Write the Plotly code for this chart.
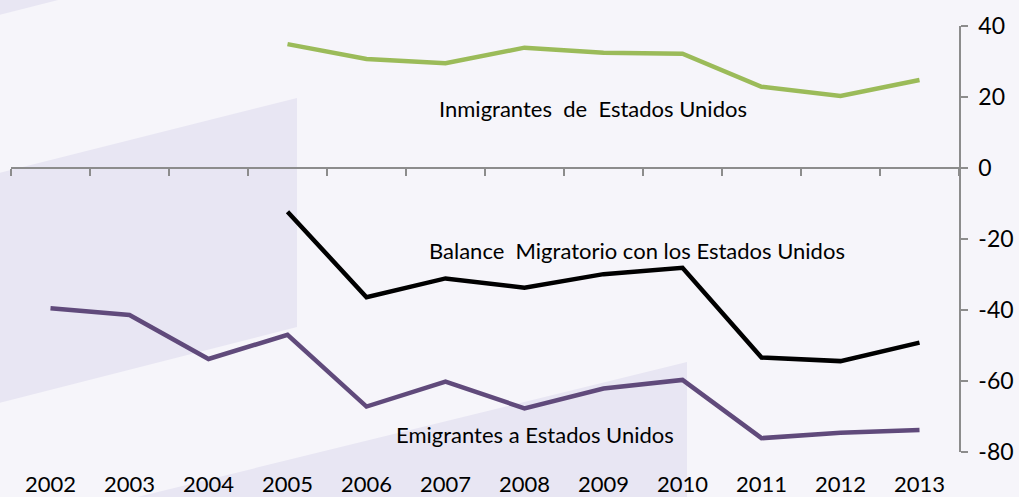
import plotly.graph_objects as go

years = ["2002", "2003", "2004", "2005", "2006", "2007", "2008",
         "2009", "2010", "2011", "2012", "2013"]
inmigrantes_years = years[3:]
inmigrantes = [34.9, 30.7, 29.5, 33.9, 32.5, 32.2, 22.9, 20.3, 24.8]
balance_years = years[3:]
balance = [-12.3, -36.4, -31.1, -33.7, -29.9, -28.1, -53.4, -54.4, -49.2]
emigrantes = [-39.5, -41.4, -53.8, -47.0, -67.2, -60.2, -67.7, -62.1,
              -59.7, -76.1, -74.6, -73.8]
y_ticks = [40, 20, 0, -20, -40, -60, -80]
y_ticktext = ["40", "20", "0", "-20", "-40", "-60", "-80"]

W, H = 1019, 497
ML, MR, MT, MB = 11, 60, 26, 45
PW, PH = W - ML - MR, H - MT - MB
YMIN, YMAX = -80, 40

def px(x):
    return (x - ML) / PW

def py(y):
    return (H - MB - y) / PH

def poly(pts):
    return "M " + " L ".join(f"{px(a):.5f},{py(b):.5f}" for a, b in pts) + " Z"

BG = "#F6F5FA"
BAND = "#E8E6F3"
AXC = "#8C8C8C"
FONT = "Lato"

fig = go.Figure()
fig.add_trace(go.Scatter(x=inmigrantes_years, y=inmigrantes, mode="lines",
                         line=dict(color="#9BBB59", width=4.5),
                         xaxis="x2", yaxis="y", showlegend=False))
fig.add_trace(go.Scatter(x=balance_years, y=balance, mode="lines",
                         line=dict(color="#000000", width=4.5),
                         showlegend=False))
fig.add_trace(go.Scatter(x=years, y=emigrantes, mode="lines",
                         line=dict(color="#604A7B", width=4.5),
                         showlegend=False))

shapes = [
    dict(type="path", xref="paper", yref="paper", layer="below",
         path=poly([(-5, 16), (70, -3), (-5, -3)]),
         fillcolor=BAND, line=dict(width=0)),
    dict(type="path", xref="paper", yref="paper", layer="below",
         path=poly([(-5, 174), (297, 98), (297, 327), (-5, 404)]),
         fillcolor=BAND, line=dict(width=0)),
    dict(type="path", xref="paper", yref="paper", layer="below",
         path=poly([(-5, 532), (687, 362), (687, 520), (-5, 520)]),
         fillcolor=BAND, line=dict(width=0)),
]

annotations = [
    dict(text="Inmigrantes\u00a0\u00a0de\u00a0\u00a0Estados Unidos",
         x=px(593), y=py(108), xref="paper", yref="paper",
         showarrow=False, xanchor="center", yanchor="middle",
         font=dict(family=FONT, size=22, color="#000000")),
    dict(text="Balance\u00a0\u00a0Migratorio con los Estados Unidos",
         x=px(637), y=py(250), xref="paper", yref="paper",
         showarrow=False, xanchor="center", yanchor="middle",
         font=dict(family=FONT, size=22, color="#000000")),
    dict(text="Emigrantes a Estados Unidos",
         x=px(535), y=py(434), xref="paper", yref="paper",
         showarrow=False, xanchor="center", yanchor="middle",
         font=dict(family=FONT, size=22, color="#000000")),
]

fig.update_layout(
    width=W, height=H,
    margin=dict(l=ML, r=MR, t=MT, b=MB, pad=0, autoexpand=False),
    paper_bgcolor=BG, plot_bgcolor="rgba(0,0,0,0)",
    shapes=shapes, annotations=annotations,
    font=dict(family=FONT, size=22, color="#000000"),
    xaxis=dict(type="category", categoryorder="array", categoryarray=years,
               range=[-0.5, len(years) - 0.5], showline=False, showgrid=False,
               zeroline=False, ticks="", ticklabelstandoff=17,
               automargin=False,
               tickfont=dict(family=FONT, size=22, color="#000000")),
    xaxis2=dict(type="category", categoryorder="array", categoryarray=years,
                matches="x", overlaying="x", anchor="free",
                position=(0 - YMIN) / (YMAX - YMIN), side="bottom",
                showline=True, linecolor=AXC, linewidth=1.5,
                ticks="outside", tickson="boundaries", ticklen=7,
                tickcolor=AXC, tickwidth=1.5, showticklabels=False,
                showgrid=False, zeroline=False, automargin=False),
    yaxis=dict(side="right", range=[YMIN, YMAX], tickvals=y_ticks,
               ticktext=y_ticktext, showline=True, linecolor=AXC,
               linewidth=1.5, ticks="outside", ticklen=7, tickcolor=AXC,
               tickwidth=1.5, showgrid=False, zeroline=False,
               ticklabelstandoff=6, automargin=False,
               tickfont=dict(family=FONT, size=23, color="#000000")),
)

fig.write_html(
    "out.html",
    config={"displayModeBar": False},
    post_script="document.body.style.margin='0';"
                "document.body.style.overflow='hidden';"
                f"document.body.style.background='{BG}';",
)
